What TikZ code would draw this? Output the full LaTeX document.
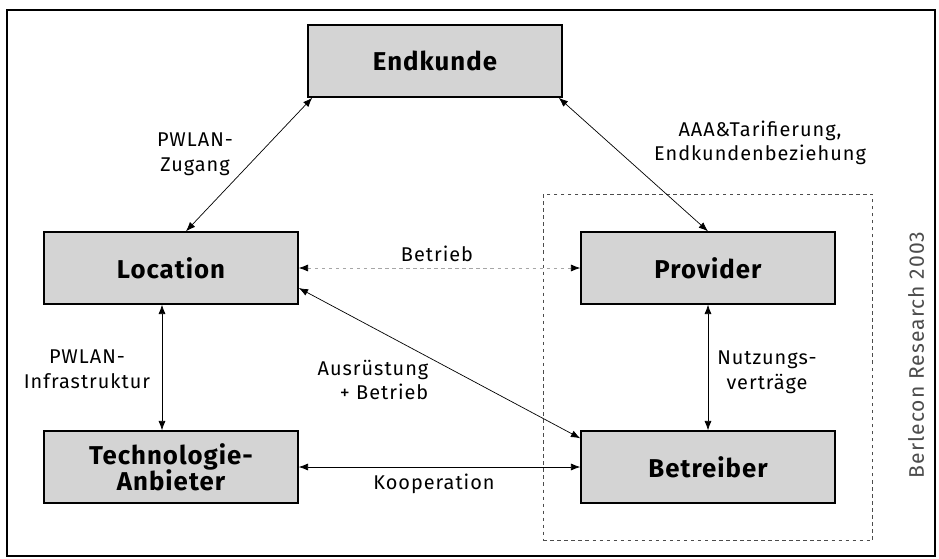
\documentclass[tikz,border=0pt]{standalone}
\usepackage{fontspec}
\setmainfont{Fira Sans}
\newfontfamily\boxfont[LetterSpace=4]{Fira Sans}
\newfontfamily\lblfont[LetterSpace=5]{Fira Sans}
\usetikzlibrary{arrows.meta,fit}

\begin{document}
\begin{tikzpicture}[x=0.03cm,y=-0.03cm,
  partner/.style={draw=black,line width=1.2pt,fill=black!17,minimum width=7.62cm,
    minimum height=2.16cm,align=center,font=\boxfont\fontsize{22}{26}\selectfont\bfseries},
  lbl/.style={align=center,font=\lblfont\fontsize{17}{21}\selectfont},
  rel/.style={{Latex[length=8pt,width=6pt,black]}-{Latex[length=8pt,width=6pt,black]},line width=0.6pt}]
\useasboundingbox (0,0) rectangle (939,559);
\draw[line width=1.5pt] (7,10) rectangle (935,556);
% Akteure
\node[partner] (ek) at (435,61) {Endkunde};
\node[partner] (loc) at (171,268) {Location};
\node[partner] (prov) at (708,268) {Provider};
\node[partner] (tech) at (171,467) {Technologie-\\[-4pt]Anbieter};
\node[partner] (bet) at (708,467) {Betreiber};
\node[draw=black!70,dashed,line width=0.6pt,inner sep=1.11cm,fit=(prov)(bet)] (grp) {};
% Beziehungen
\draw[rel] ([xshift=0.15cm]ek.south west) -- ([xshift=0.45cm]loc.north);
\draw[rel] ([xshift=-0.12cm]ek.south east) -- (prov.north);
\draw[rel,draw=black!35,dashed] (loc.east) -- (prov.west);
\draw[rel] ([xshift=-0.27cm]loc.south) -- ([xshift=-0.27cm]tech.north);
\draw[rel] ([yshift=-0.6cm]loc.east) -- ([yshift=-0.24cm]bet.north west);
\draw[rel] (tech.east) -- (bet.west);
\draw[rel] (prov.south) -- (bet.north);
% Beschriftungen
\node[lbl] (l1) at (195,154) {PWLAN-\\Zugang};
\node[lbl] (l2) at (760,143) {AAA\&Tarifierung,\\Endkundenbeziehung};
\node[lbl] (l3) at (437,254) {Betrieb};
\node[lbl] (l4) at (87,369) {PWLAN-\\Infrastruktur};
\node[lbl,align=right] (l5) at (373,380) {Ausrüstung\\+ Betrieb};
\node[lbl] (l6) at (767,372) {Nutzungs-\\verträge};
\node[lbl] (l7) at (434,484) {Kooperation};
\node[lbl,rotate=90,text=black!70,font=\lblfont\fontsize{18}{21}\selectfont] (src) at (916,355) {Berlecon Research 2003};
\end{tikzpicture}
\end{document}
